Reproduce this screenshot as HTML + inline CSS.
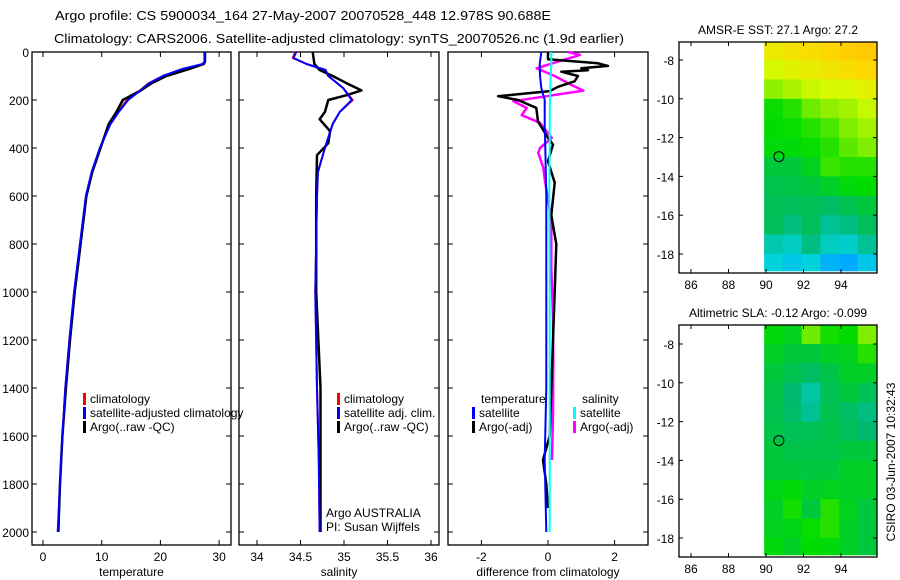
<!DOCTYPE html>
<html><head><meta charset="utf-8"><style>
html,body{margin:0;padding:0;background:#fff;}
svg{display:block;font-family:"Liberation Sans",sans-serif;}
text{fill:#000;}
</style></head><body>
<svg id="chart" width="900" height="580" viewBox="0 0 900 580" xmlns="http://www.w3.org/2000/svg">
<text x="55" y="20" font-size="13" textLength="496" lengthAdjust="spacingAndGlyphs">Argo profile: CS 5900034_164 27-May-2007 20070528_448 12.978S 90.688E</text>
<text x="54" y="43" font-size="13" textLength="570" lengthAdjust="spacingAndGlyphs">Climatology: CARS2006. Satellite-adjusted climatology: synTS_20070526.nc (1.9d earlier)</text>
<g id="g"></g>
</svg>
<script>
// ---------- data ----------
const depthTicks=[0,200,400,600,800,1000,1200,1400,1600,1800,2000];
const tempTicks=[0,10,20,30];
const salTicks=[34,34.5,35,35.5,36];
const diffTicks=[-2,0,2];
const lonTicks=[86,88,90,92,94];
const latTicks=[-8,-10,-12,-14,-16,-18];

const tDepth=[0,40,50,70,100,130,160,200,250,300,400,500,600,800,1000,1200,1400,1600,1800,2000];
const tClim=[27.6,27.6,27.4,24,20.5,18,16.5,14.3,12.8,11.4,9.7,8.3,7.3,6.3,5.3,4.5,3.8,3.3,2.9,2.6];
const tSat=[27.5,27.5,27.2,23.8,20.4,18.1,16.6,14.5,12.9,11.5,9.7,8.3,7.3,6.3,5.3,4.5,3.8,3.3,2.9,2.5];
const tArgo=[27.6,27.6,27.4,25,21,18.5,16.7,13.6,12.5,11.2,9.8,8.4,7.4,6.4,5.4,4.6,3.9,3.3,2.9,2.6];

const sDepth=[0,25,50,75,100,150,200,250,300,400,500,600,1000,1400,1700,2000];
const sClim=[34.44,34.41,34.57,34.78,34.82,34.99,35.1,34.95,34.87,34.78,34.70,34.69,34.67,34.69,34.71,34.72];
const sSat=[34.45,34.42,34.57,34.79,34.82,34.99,35.09,34.95,34.87,34.78,34.70,34.69,34.67,34.69,34.71,34.72];
const saDepth=[0,50,75,100,130,160,180,200,250,280,330,380,430,600,1000,1400,1700,2000];
const sArgo=[34.64,34.66,34.72,34.87,35.03,35.2,35.03,34.82,34.78,34.72,34.84,34.82,34.69,34.68,34.68,34.73,34.73,34.73];

const dtDepth=[0,30,47,58,68,76,82,100,122,145,163,184,200,233,289,358,386,455,545,680,800,1000,1200,1400,1600,1700,1800,1900];
const dtArgo=[0,0,1.5,1.8,1.0,1.2,0.4,0.9,0.8,0.3,0.05,-1.5,-0.9,-0.35,-0.3,0,0.15,0,0.2,0.1,0.25,0.2,0.15,0.1,0.05,-0.15,-0.05,0];
const dsDepth=[0,12,40,68,100,130,161,184,205,233,263,295,358,400,420,483,538,700,900,1100,1300,1500,1700];
const dsArgo=[0.6,0.96,0.3,-0.34,0.2,0.6,1.06,-0.04,-1.04,-0.64,-0.79,-0.24,0.11,-0.24,-0.29,-0.14,-0.09,0.1,0.1,0.15,0.16,0.15,0.12];
const dSatDepth=[0,50,100,150,200,300,400,600,1000,1400,1700,2000];
const dtSat=[-0.2,-0.25,-0.24,-0.2,-0.1,-0.1,-0.08,-0.05,-0.05,-0.05,-0.1,-0.05];
const dsSat=[0.1,0.1,0.08,0.07,0.06,0.05,0.05,0.04,0.05,0.05,0.05,0.05];

// map grids: rows lat -7..-19 (1deg), cols lon 89.9..95.9 (1deg); values are colour-scale index 0..1
const sstGrid=[
[0.85,0.87,0.88,0.9,0.92,0.93],[0.8,0.82,0.84,0.86,0.88,0.9],[0.72,0.75,0.78,0.8,0.8,0.83],
[0.57,0.6,0.68,0.72,0.74,0.78],[0.56,0.57,0.6,0.64,0.7,0.74],[0.55,0.55,0.57,0.6,0.66,0.7],
[0.5,0.5,0.53,0.62,0.6,0.6],[0.47,0.48,0.5,0.52,0.55,0.56],[0.46,0.45,0.46,0.44,0.47,0.5],
[0.45,0.4,0.45,0.38,0.4,0.45],[0.35,0.33,0.4,0.33,0.32,0.38],[0.3,0.27,0.3,0.22,0.2,0.27]];
const slaGrid=[
[0.55,0.53,0.68,0.58,0.56,0.7],[0.52,0.5,0.5,0.52,0.53,0.6],[0.5,0.47,0.44,0.48,0.52,0.52],
[0.48,0.42,0.36,0.46,0.5,0.46],[0.47,0.43,0.38,0.47,0.44,0.4],[0.48,0.46,0.46,0.48,0.45,0.42],
[0.5,0.48,0.48,0.48,0.5,0.5],[0.5,0.5,0.49,0.5,0.52,0.52],[0.54,0.55,0.52,0.53,0.52,0.52],
[0.52,0.58,0.5,0.6,0.53,0.5],[0.53,0.54,0.57,0.6,0.52,0.5],[0.55,0.52,0.56,0.55,0.52,0.5]];
const argoLon=90.688, argoLat=-12.978;

// ---------- helpers ----------
const NS="http://www.w3.org/2000/svg";
const G=document.getElementById('g');
function el(t,a,p){const e=document.createElementNS(NS,t);for(const k in a)e.setAttribute(k,a[k]);(p||G).appendChild(e);return e;}
const yD=d=>52+d*0.24;
const xT=v=>43+v*5.87;
const xS=v=>257+(v-34)*87;
const xDf=v=>548+v*33.3;
const xLon=v=>691+(v-86)*18.75;
const yLat1=v=>60+(-8-v)*19.4;
const yLat2=v=>344+(-8-v)*19.4;

function box(x0,y0,x1,y1,name){
  const r=el('rect',{x:x0,y:y0,width:x1-x0,height:y1-y0,fill:'none',stroke:'#000','stroke-width':1.3});
  
  
}
function line(xs,ds,xf,col,w,name,dash){
  const pts=xs.map((v,i)=>xf(v).toFixed(1)+','+yD(ds[i]).toFixed(1)).join(' ');
  const p=el('polyline',{points:pts,fill:'none',stroke:col,'stroke-width':w,'stroke-linejoin':'round'});
  if(dash)p.setAttribute('stroke-dasharray',dash);
  
  
}
function txt(x,y,s,name,anchor,size){
  const t=el('text',{x:x,y:y,'font-size':size||12,'text-anchor':anchor||'start'});
  t.textContent=s;
  
  
  return t;
}
function profilePanel(x0,x1,xt,ticks,xf,label,name,ylabels){
  box(x0,52,x1,545,name+'-frame');
  depthTicks.forEach(d=>{
    el('line',{x1:x0,x2:x0+5,y1:yD(d),y2:yD(d),stroke:'#000'});
    el('line',{x1:x1,x2:x1-5,y1:yD(d),y2:yD(d),stroke:'#000'});
    if(ylabels)txt(x0-3,yD(d)+5,String(d),'depth-tick-label','end');
  });
  ticks.forEach(v=>{
    el('line',{x1:xf(v),x2:xf(v),y1:545,y2:540,stroke:'#000'});
    el('line',{x1:xf(v),x2:xf(v),y1:52,y2:57,stroke:'#000'});
    txt(xf(v),561,String(v),name+'-tick-label','middle');
  });
  txt((x0+x1)/2,576,label,name+'-axis-title','middle');
}
function legendEntry(x,y,col,s,name){
  const r=el('rect',{x:x,y:y-10,width:3,height:12,fill:col});
  
  
  txt(x+7,y,s,name);
}
function cmap(t){
  const st=[[0,[0,60,255]],[0.2,[0,170,255]],[0.3,[0,210,220]],[0.42,[0,185,110]],[0.5,[0,200,60]],[0.56,[0,220,0]],[0.68,[110,235,0]],[0.8,[215,250,0]],[0.9,[255,215,0]],[1,[255,170,0]]];
  for(let i=1;i<st.length;i++){if(t<=st[i][0]){const a=st[i-1],b=st[i];const f=(t-a[0])/(b[0]-a[0]);
    return 'rgb('+a[1].map((c,k)=>Math.round(c+(b[1][k]-c)*f)).join(',')+')';}}
  return 'rgb(255,170,0)';
}
function mapPanel(top,bot,yLat,grid,title,name){
  txt(778,top-8,title,name+'-title','middle',12);
  grid.forEach((row,r)=>row.forEach((v,c)=>{
    const x=xLon(89.9+c), y=Math.max(top,yLat(-7-r)), y2=Math.min(bot-2,yLat(-8-r));
    const e=el('rect',{x:x,y:y,width:xLon(90.9+c)-x+0.3,height:y2-y+0.3,fill:cmap(v)});
    
    
  }));
  box(679,top,877,bot,name+'-frame');
  lonTicks.forEach(v=>{
    el('line',{x1:xLon(v),x2:xLon(v),y1:bot,y2:bot-4,stroke:'#000'});
    el('line',{x1:xLon(v),x2:xLon(v),y1:top,y2:top+4,stroke:'#000'});
    txt(xLon(v),bot+16,String(v),name+'-lon-label','middle');
  });
  latTicks.forEach(v=>{
    el('line',{x1:679,x2:683,y1:yLat(v),y2:yLat(v),stroke:'#000'});
    el('line',{x1:877,x2:873,y1:yLat(v),y2:yLat(v),stroke:'#000'});
    txt(674,yLat(v)+5,String(v),name+'-lat-label','end');
  });
  const c=el('circle',{cx:xLon(argoLon),cy:yLat(argoLat),r:5,fill:'none',stroke:'#000','stroke-width':1});
  
  
}

// ---------- panel 1: temperature ----------
profilePanel(32,231,null,tempTicks,xT,'temperature','temperature-panel',true);
line(tClim,tDepth,xT,'#f00',2,'temp-climatology-line');
line(tArgo,tDepth,xT,'#000',2.5,'temp-argo-line');
line(tSat,tDepth,xT,'#00f',2,'temp-satellite-line');
legendEntry(83,403,'#f00','climatology','legend-climatology');
legendEntry(83,417,'#00f','satellite-adjusted climatology','legend-satellite-adjusted');
legendEntry(83,431,'#000','Argo(..raw -QC)','legend-argo');

// ---------- panel 2: salinity ----------
profilePanel(239,439,null,salTicks,xS,'salinity','salinity-panel',false);
line(sClim,sDepth,xS,'#f00',2,'sal-climatology-line');
line(sArgo,saDepth,xS,'#000',2.5,'sal-argo-line');
line(sSat,sDepth,xS,'#00f',2,'sal-satellite-line');
legendEntry(337,403,'#f00','climatology','legend-sal-climatology');
legendEntry(337,417,'#00f','satellite adj. clim.','legend-sal-satellite');
legendEntry(337,431,'#000','Argo(..raw -QC)','legend-sal-argo');
txt(326,517,'Argo AUSTRALIA','argo-australia-label');
txt(326,531,'PI: Susan Wijffels','pi-label');

// ---------- panel 3: differences ----------
profilePanel(448,648,null,diffTicks,xDf,'difference from climatology','difference-panel',false);
line(dsArgo,dsDepth,xDf,'#f0f',2.5,'sal-argo-diff-line');
line(dtArgo,dtDepth,xDf,'#000',2.5,'temp-argo-diff-line');
line(dtSat,dSatDepth,xDf,'#00f',2,'temp-satellite-diff-line');
line(dsSat,dSatDepth,xDf,'#0ff',2,'sal-satellite-diff-line');
txt(481,403,'temperature','legend-temperature-heading');
legendEntry(472,417,'#00f','satellite','legend-temp-satellite');
legendEntry(472,431,'#000','Argo(-adj)','legend-temp-argo');
txt(582,403,'salinity','legend-salinity-heading');
legendEntry(573,417,'#0ff','satellite','legend-sal-satellite-diff');
legendEntry(573,431,'#f0f','Argo(-adj)','legend-sal-argo-diff');

// ---------- maps ----------
mapPanel(42,273,yLat1,sstGrid,'AMSR-E SST: 27.1 Argo: 27.2','sst-map');
mapPanel(325,557,yLat2,slaGrid,'Altimetric SLA: -0.12 Argo: -0.099','sla-map');
const cs=txt(0,0,'CSIRO 03-Jun-2007 10:32:43','csiro-timestamp','middle',12);
cs.setAttribute('transform','translate(895,462) rotate(-90)');
</script>
</body></html>
